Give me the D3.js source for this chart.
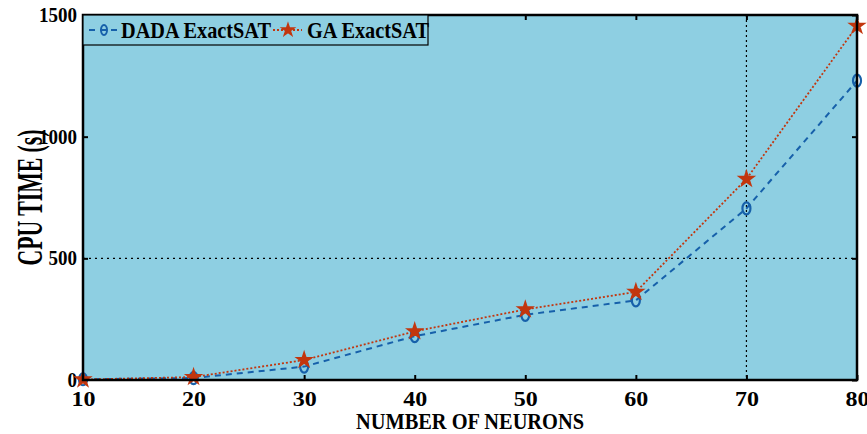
<!DOCTYPE html>
<html>
<head>
<meta charset="utf-8">
<script src="https://cdn.jsdelivr.net/npm/d3@7"></script>
<style>
  body { margin: 0; background: #fff; }
  svg { display: block; }
  text { font-family: "Liberation Serif", "DejaVu Serif", serif; font-weight: bold; }
</style>
</head>
<body>
<div id="chart"></div>
<script>
// Data
const neurons = [10, 20, 30, 40, 50, 60, 70, 80];
const dadaTimes = [3, 8, 55, 180, 268, 327, 705, 1230];
const gaTimes = [2, 12, 82, 200, 290, 362, 826, 1455];
const xTicks = [10, 20, 30, 40, 50, 60, 70, 80];
const yTicks = [0, 500, 1000, 1500];
const gridX = [70];
const gridY = [500];
const seriesNames = ["DADA ExactSAT", "GA ExactSAT"];

const W = 867, H = 434;
const margin = { top: 15, right: 10, bottom: 54, left: 83 };
const width = W - margin.left - margin.right;
const height = H - margin.top - margin.bottom;

const svg = d3.select("#chart").append("svg")
    .attr("width", W)
    .attr("height", H);

const g = svg.append("g")
    .attr("transform", `translate(${margin.left},${margin.top})`);

const x = d3.scaleLinear().domain([10, 80]).range([0, width]);
const y = d3.scaleLinear().domain([0, 1500]).range([height, 0]);

// background
g.append("rect")
    .attr("width", width)
    .attr("height", height)
    .attr("fill", "#8ecfe2");

// grid lines (only the ones visible in the picture)
g.selectAll(".gx").data(gridX).enter().append("line")
    .attr("x1", d => x(d)).attr("x2", d => x(d))
    .attr("y1", 0).attr("y2", height)
    .attr("stroke", "#000").attr("stroke-width", 1.2)
    .attr("stroke-dasharray", "2,3");

g.selectAll(".gy").data(gridY).enter().append("line")
    .attr("x1", 0).attr("x2", width)
    .attr("y1", d => y(d)).attr("y2", d => y(d))
    .attr("stroke", "#000").attr("stroke-width", 1.2)
    .attr("stroke-dasharray", "2,4");

// axes with inward ticks
const xAxis = g.append("g")
    .attr("transform", `translate(0,${height})`)
    .call(d3.axisBottom(x).tickValues(xTicks).tickSizeInner(-5).tickSizeOuter(0).tickPadding(12));
xAxis.select(".domain").remove();
xAxis.selectAll("text")
    .style("font-size", "20px")
    .attr("textLength", 24)
    .attr("lengthAdjust", "spacingAndGlyphs")
    .attr("fill", "#000");
xAxis.selectAll("line").attr("stroke-width", 2);

const xTop = g.append("g")
    .call(d3.axisTop(x).tickValues(xTicks).tickSizeInner(-5).tickSizeOuter(0).tickFormat(""));
xTop.select(".domain").remove();
xTop.selectAll("line").attr("stroke-width", 2);

const yAxis = g.append("g")
    .call(d3.axisLeft(y).tickValues(yTicks).tickFormat(d3.format("d"))
        .tickSizeInner(-5).tickSizeOuter(0).tickPadding(6));
yAxis.select(".domain").remove();
yAxis.selectAll("text")
    .style("font-size", "20px")
    .attr("textLength", d => String(d).length * 9.5)
    .attr("lengthAdjust", "spacingAndGlyphs")
    .attr("fill", "#000");
yAxis.selectAll("line").attr("stroke-width", 2);

const yRight = g.append("g")
    .attr("transform", `translate(${width},0)`)
    .call(d3.axisRight(y).tickValues(yTicks).tickSizeInner(-5).tickSizeOuter(0).tickFormat(""));
yRight.select(".domain").remove();
yRight.selectAll("line").attr("stroke-width", 2);

// lines
const lineGen = d3.line().x((d, i) => x(neurons[i])).y(d => y(d));

g.append("path")
    .datum(dadaTimes)
    .attr("fill", "none")
    .attr("stroke", "#1660aa")
    .attr("stroke-width", 2)
    .attr("stroke-dasharray", "6,5")
    .attr("d", lineGen);

g.append("path")
    .datum(gaTimes)
    .attr("fill", "none")
    .attr("stroke", "#c2360e")
    .attr("stroke-width", 1.8)
    .attr("stroke-dasharray", "2,2")
    .attr("d", lineGen);

// markers
g.selectAll(".m1").data(dadaTimes).enter().append("ellipse")
    .attr("cx", (d, i) => x(neurons[i]))
    .attr("cy", d => y(d))
    .attr("rx", 4).attr("ry", 6)
    .attr("fill", "none")
    .attr("stroke", "#1660aa")
    .attr("stroke-width", 2.2);

const star = d3.symbol().type(d3.symbolStar).size(55);
g.selectAll(".m2").data(gaTimes).enter().append("path")
    .attr("transform", (d, i) => `translate(${x(neurons[i])},${y(d)})`)
    .attr("d", star)
    .attr("fill", "#c2360e")
    .attr("stroke", "#c2360e")
    .attr("stroke-width", 2);

// plot border
g.append("rect")
    .attr("width", width)
    .attr("height", height)
    .attr("fill", "none")
    .attr("stroke", "#000")
    .attr("stroke-width", 2.5);

// legend
const legend = g.append("g");
legend.append("rect")
    .attr("x", 0).attr("y", 0)
    .attr("width", 345).attr("height", 30)
    .attr("fill", "#8ecfe2")
    .attr("stroke", "#000").attr("stroke-width", 1.2);

legend.append("line")
    .attr("x1", 6).attr("x2", 36).attr("y1", 15).attr("y2", 15)
    .attr("stroke", "#1660aa").attr("stroke-width", 2.2)
    .attr("stroke-dasharray", "6,5");
legend.append("ellipse")
    .attr("cx", 21).attr("cy", 15).attr("rx", 3).attr("ry", 5)
    .attr("fill", "none").attr("stroke", "#1660aa").attr("stroke-width", 2);
legend.append("text")
    .attr("x", 38).attr("y", 23)
    .style("font-size", "23px")
    .attr("textLength", 150)
    .attr("lengthAdjust", "spacingAndGlyphs")
    .text(seriesNames[0]);

legend.append("line")
    .attr("x1", 190).attr("x2", 219).attr("y1", 15).attr("y2", 15)
    .attr("stroke", "#c2360e").attr("stroke-width", 1.8)
    .attr("stroke-dasharray", "2,2");
legend.append("path")
    .attr("transform", "translate(205,15)")
    .attr("d", d3.symbol().type(d3.symbolStar).size(45))
    .attr("fill", "#c2360e").attr("stroke", "#c2360e").attr("stroke-width", 1.5);
legend.append("text")
    .attr("x", 224).attr("y", 23)
    .style("font-size", "23px")
    .attr("textLength", 122)
    .attr("lengthAdjust", "spacingAndGlyphs")
    .text(seriesNames[1]);

// axis titles
svg.append("text")
    .attr("x", margin.left + width / 2)
    .attr("y", 429)
    .attr("text-anchor", "middle")
    .style("font-size", "24px")
    .attr("textLength", 228)
    .attr("lengthAdjust", "spacingAndGlyphs")
    .text("NUMBER OF NEURONS");

svg.append("text")
    .attr("transform", `translate(42,${margin.top + height / 2}) rotate(-90)`)
    .attr("text-anchor", "middle")
    .style("font-size", "36px")
    .attr("textLength", 136)
    .attr("lengthAdjust", "spacingAndGlyphs")
    .text("CPU TIME (s)");
</script>
</body>
</html>
